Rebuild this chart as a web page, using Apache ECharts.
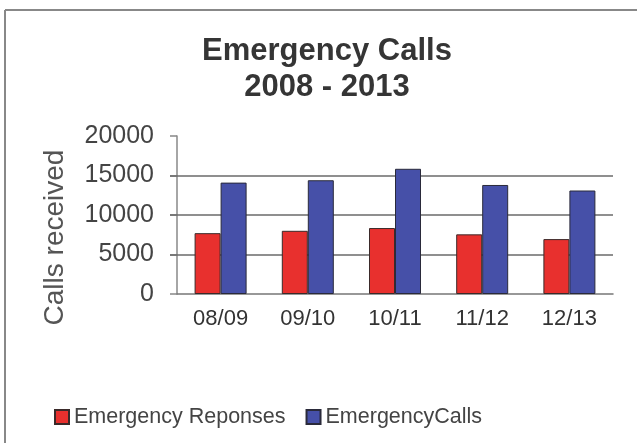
<!DOCTYPE html>
<html>
<head>
<meta charset="utf-8">
<script src="https://cdn.jsdelivr.net/npm/echarts@6/dist/echarts.min.js"></script>
<style>
  html, body { margin: 0; padding: 0; background: #ffffff; }
  #chart { width: 637px; height: 443px; }
</style>
</head>
<body>
<div id="chart"></div>
<script>
// Seasons on the category axis
const seasons = ['08/09', '09/10', '10/11', '11/12', '12/13'];
// Series values per season
const emergencyResponses = [7700, 8000, 8350, 7550, 6950];
const emergencyCalls = [14100, 14400, 15850, 13800, 13100];
// Value axis range and horizontal rules
const axisMax = 20000;
const axisStep = 5000;
const gridRules = [5000, 10000, 15000];

const font = 'Liberation Sans, Arial, Helvetica, sans-serif';
const chart = echarts.init(document.getElementById('chart'), null, { renderer: 'canvas' });

chart.setOption({
  backgroundColor: '#ffffff',
  animation: false,
  title: {
    text: 'Emergency Calls\n2008 - 2013',
    left: 322,
    textAlign: 'center',
    top: 28,
    textStyle: {
      fontFamily: font,
      fontSize: 31,
      fontWeight: 'bold',
      color: '#353535',
      lineHeight: 36
    }
  },
  legend: {
    left: 49,
    top: 401,
    itemWidth: 14,
    itemHeight: 14,
    itemGap: 20,
    icon: 'rect',
    textStyle: { fontFamily: font, fontSize: 21.5, color: '#444444' },
    data: ['Emergency Reponses', 'EmergencyCalls']
  },
  grid: { left: 177, right: 24, top: 136, bottom: 149, containLabel: false },
  xAxis: {
    type: 'category',
    data: seasons,
    axisLine: { show: true, lineStyle: { color: '#777777', width: 1.5 } },
    axisTick: { show: false },
    axisLabel: { fontFamily: font, fontSize: 22, color: '#333333', margin: 14 }
  },
  yAxis: {
    type: 'value',
    min: 0,
    max: axisMax,
    interval: axisStep,
    name: 'Calls received',
    nameLocation: 'middle',
    nameGap: 108,
    nameRotate: 90,
    nameTextStyle: { fontFamily: font, fontSize: 28, color: '#555555', padding: [0, 45, 0, 0] },
    axisLine: { show: true, lineStyle: { color: '#888888', width: 1.5 } },
    axisTick: { show: true, inside: false, length: 7, lineStyle: { color: '#888888', width: 1.5 } },
    axisLabel: { fontFamily: font, fontSize: 25, color: '#444444', margin: 23, formatter: v => String(v) },
    splitLine: { show: false }
  },
  series: [
    {
      name: 'Emergency Reponses',
      type: 'bar',
      data: emergencyResponses,
      barWidth: 26,
      barGap: '0%',
      itemStyle: { color: '#e8302e', borderColor: '#3a2a2a', borderWidth: 1 },
      markLine: {
        silent: true,
        symbol: 'none',
        label: { show: false },
        z: 1,
        lineStyle: { color: '#6a6a6a', width: 1.5, type: 'solid' },
        data: gridRules.map(v => ({ yAxis: v, x: 170, x2: 613 }))
      },
      z: 3
    },
    {
      name: 'EmergencyCalls',
      type: 'bar',
      data: emergencyCalls,
      barWidth: 26,
      barGap: '0%',
      itemStyle: { color: '#4650a8', borderColor: '#2a2a3a', borderWidth: 1 },
      z: 3
    }
  ],
  graphic: [
    { type: 'line', shape: { x1: 5, y1: 10, x2: 637, y2: 10 }, style: { stroke: '#888888', lineWidth: 2 } },
    { type: 'line', shape: { x1: 5, y1: 10, x2: 5, y2: 443 }, style: { stroke: '#888888', lineWidth: 2 } }
  ]
});
</script>
</body>
</html>
